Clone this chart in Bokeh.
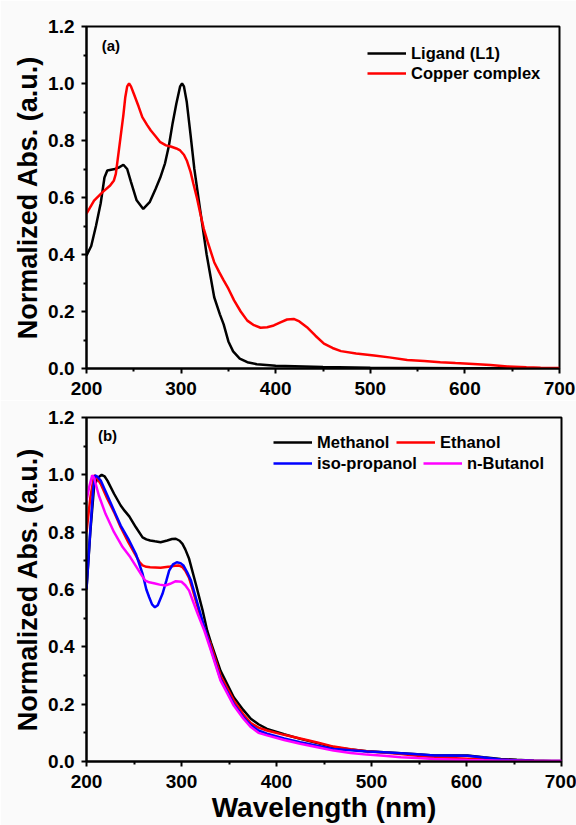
from bokeh.plotting import figure
from bokeh.models import Legend, LegendItem, FixedTicker, Label, Range1d, NumeralTickFormatter
from bokeh.layouts import column
from bokeh.embed import file_html
from bokeh.resources import INLINE

# ---------------- data: panel (a) ----------------
ligand_wl = [200, 205, 210, 215, 219, 222, 230, 234, 239, 243, 247, 253, 260, 267, 273, 278, 283,
             287, 291, 295, 299, 301, 303, 306, 310, 314, 320, 327, 335, 341, 345, 350, 355, 362,
             370, 380, 400, 450, 500, 600, 700]
ligand_abs = [0.396, 0.43, 0.50, 0.58, 0.67, 0.695, 0.70, 0.705, 0.715, 0.70, 0.655, 0.59, 0.56,
              0.585, 0.63, 0.67, 0.72, 0.78, 0.86, 0.93, 0.99, 1.0, 0.99, 0.935, 0.82, 0.70, 0.56,
              0.40, 0.25, 0.19, 0.155, 0.095, 0.06, 0.035, 0.022, 0.015, 0.01, 0.005, 0.003, 0.001, 0.0]

copper_wl = [200, 208, 217, 225, 229, 231, 234, 236, 239, 241, 243, 245, 247, 250, 255, 259, 264,
             268, 273, 278, 284, 289, 295, 299, 303, 306, 310, 313, 317, 320, 324, 328, 335, 340,
             345, 350, 356, 363, 370, 377, 384, 391, 398, 405, 412, 419, 425, 433, 442, 451, 460,
             469, 485, 504, 520, 539, 557, 574, 590, 609, 627, 645, 665, 680, 700]
copper_abs = [0.543, 0.589, 0.619, 0.642, 0.66, 0.683, 0.76, 0.812, 0.89, 0.952, 0.99, 1.0, 0.99,
              0.964, 0.92, 0.882, 0.855, 0.835, 0.815, 0.794, 0.783, 0.779, 0.772, 0.765, 0.75,
              0.73, 0.69, 0.648, 0.595, 0.548, 0.49, 0.445, 0.373, 0.34, 0.309, 0.28, 0.239, 0.2,
              0.168, 0.152, 0.143, 0.145, 0.151, 0.162, 0.172, 0.174, 0.165, 0.145, 0.115, 0.087,
              0.072, 0.061, 0.053, 0.046, 0.039, 0.030, 0.026, 0.022, 0.019, 0.016, 0.012, 0.007,
              0.004, 0.003, 0.002]

# ---------------- data: panel (b) ----------------
methanol_wl = [200, 204, 208, 212, 216, 219, 222, 229, 236, 240, 245, 252, 259, 263, 267, 272, 278,
               285, 290, 294, 298, 301, 304, 308, 315, 322, 327, 331, 341, 355, 365, 373, 381, 390,
               408, 425, 443, 460, 478, 495, 513, 531, 548, 566, 583, 601, 618, 636, 653, 671, 700]
methanol_abs = [0.6, 0.8, 0.96, 0.99, 1.0, 0.995, 0.98, 0.934, 0.893, 0.875, 0.855, 0.817, 0.782,
                0.775, 0.771, 0.768, 0.765, 0.771, 0.776, 0.777, 0.77, 0.759, 0.74, 0.707, 0.62,
                0.53, 0.457, 0.415, 0.317, 0.224, 0.18, 0.149, 0.13, 0.114, 0.095, 0.079, 0.064,
                0.050, 0.042, 0.036, 0.032, 0.029, 0.025, 0.021, 0.021, 0.021, 0.015, 0.009, 0.006,
                0.003, 0.0]

ethanol_wl = [200, 204, 208, 210, 215, 222, 229, 236, 244, 252, 256, 259, 263, 267, 278, 288, 293,
              297, 301, 304, 308, 311, 318, 325, 331, 341, 355, 365, 373, 381, 390, 408, 425, 443,
              460, 478, 495, 513, 531, 548, 566, 583, 601, 618, 636, 653, 671, 700]
ethanol_abs = [0.80, 0.92, 0.998, 0.995, 0.968, 0.916, 0.87, 0.817, 0.765, 0.718, 0.695, 0.684,
               0.679, 0.678, 0.676, 0.68, 0.683, 0.684, 0.678, 0.666, 0.64, 0.608, 0.527, 0.457,
               0.405, 0.300, 0.213, 0.165, 0.134, 0.118, 0.108, 0.093, 0.080, 0.066, 0.052, 0.043,
               0.036, 0.031, 0.026, 0.020, 0.015, 0.012, 0.010, 0.008, 0.006, 0.004, 0.003, 0.002]

isopropanol_wl = [200, 204, 207, 209, 211, 215, 222, 229, 236, 244, 252, 259, 263, 266, 269, 272,
                  275, 280, 284, 287, 291, 295, 299, 302, 306, 310, 318, 325, 331, 341, 355, 365,
                  373, 381, 390, 408, 425, 443, 460, 478, 495, 513, 531, 548, 566, 583, 601, 618,
                  636, 653, 671, 700]
isopropanol_abs = [0.602, 0.806, 0.95, 0.998, 0.995, 0.98, 0.928, 0.875, 0.823, 0.777, 0.724,
                   0.655, 0.60, 0.573, 0.548, 0.538, 0.545, 0.585, 0.63, 0.666, 0.688, 0.695,
                   0.692, 0.684, 0.66, 0.631, 0.538, 0.457, 0.393, 0.288, 0.201, 0.155, 0.126,
                   0.108, 0.097, 0.080, 0.067, 0.055, 0.044, 0.039, 0.035, 0.032, 0.029, 0.025,
                   0.021, 0.021, 0.020, 0.014, 0.007, 0.004, 0.003, 0.002]

butanol_wl = [200, 203, 206, 208, 213, 220, 229, 238, 246, 255, 259, 262, 266, 271, 277, 283, 288,
              294, 300, 304, 308, 312, 317, 324, 331, 341, 355, 365, 373, 381, 390, 408, 425, 443,
              460, 478, 495, 513, 531, 548, 566, 583, 601, 618, 636, 653, 671, 700]
butanol_abs = [0.91, 0.96, 0.998, 0.99, 0.928, 0.864, 0.80, 0.748, 0.713, 0.666, 0.645, 0.631,
               0.625, 0.622, 0.617, 0.614, 0.62, 0.629, 0.627, 0.615, 0.596, 0.56, 0.515, 0.457,
               0.387, 0.283, 0.195, 0.15, 0.12, 0.10, 0.091, 0.075, 0.062, 0.050, 0.038, 0.030,
               0.024, 0.020, 0.015, 0.012, 0.009, 0.007, 0.005, 0.004, 0.003, 0.003, 0.002, 0.002]

x_major = [200, 300, 400, 500, 600, 700]
x_minor = [250, 350, 450, 550, 650]
y_major = [0.0, 0.2, 0.4, 0.6, 0.8, 1.0, 1.2]
y_minor = [0.1, 0.3, 0.5, 0.7, 0.9, 1.1]

FONT = "Liberation Sans"
BG = "#fafafa"


def make_fig(frame_w, frame_h, b_top, b_bottom, b_right, xlabel):
    p = figure(frame_width=frame_w, frame_height=frame_h,
               min_border_left=86, min_border_right=b_right,
               min_border_top=b_top, min_border_bottom=b_bottom,
               x_range=Range1d(200, 700), y_range=Range1d(0, 1.2),
               output_backend="svg", toolbar_location=None, tools="")
    p.background_fill_color = BG
    p.border_fill_color = BG
    p.grid.visible = False
    p.outline_line_color = "black"
    p.outline_line_width = 2
    p.xaxis.ticker = FixedTicker(ticks=x_major, minor_ticks=x_minor)
    p.yaxis.ticker = FixedTicker(ticks=y_major, minor_ticks=y_minor)
    p.yaxis.formatter = NumeralTickFormatter(format="0.0")
    for ax in (p.xaxis, p.yaxis):
        ax.axis_line_width = 2
        ax.major_tick_line_width = 2
        ax.minor_tick_line_width = 2
        ax.major_tick_out = 5
        ax.major_tick_in = 0
        ax.minor_tick_out = 3
        ax.minor_tick_in = 0
        ax.major_label_text_font = FONT
        ax.major_label_text_font_style = "bold"
        ax.major_label_text_font_size = "19px"
        ax.major_label_text_color = "black"
        ax.axis_label_text_font = FONT
        ax.axis_label_text_font_style = "bold"
        ax.axis_label_text_font_size = "27px"
        ax.axis_label_text_color = "black"
    p.yaxis.axis_label = "Normalized Abs. (a.u.)"
    p.yaxis.major_label_standoff = 7
    p.yaxis.axis_label_standoff = 2
    p.xaxis.major_label_standoff = 8
    if xlabel:
        p.xaxis.axis_label = xlabel
        p.xaxis.axis_label_text_font_size = "28px"
        p.xaxis.axis_label_standoff = 1
    return p


def style_legend(leg):
    leg.background_fill_alpha = 0
    leg.border_line_alpha = 0
    leg.padding = 0
    leg.margin = 0
    leg.spacing = 0
    leg.glyph_width = 39
    leg.glyph_height = 20
    leg.label_height = 20
    leg.label_standoff = 5
    leg.label_text_font = FONT
    leg.label_text_font_style = "bold"
    leg.label_text_font_size = "16.5px"
    leg.label_text_color = "black"
    leg.label_text_baseline = "middle"


# ---------------- panel (a) ----------------
p1 = make_fig(473, 342, 26, 32, 17, None)
r_lig = p1.line(ligand_wl, ligand_abs, line_color="black", line_width=2.5)
r_cu = p1.line(copper_wl, copper_abs, line_color="#ff0000", line_width=2.5)
leg1 = Legend(items=[LegendItem(label="Ligand (L1)", renderers=[r_lig]),
                     LegendItem(label="Copper complex", renderers=[r_cu])],
              location=(281, 285), orientation="vertical")
style_legend(leg1)
p1.add_layout(leg1)
p1.add_layout(Label(x=216, y=1.135, text="(a)", text_font=FONT, text_font_style="bold",
                    text_font_size="15px", text_baseline="middle", text_color="black"))

# ---------------- panel (b) ----------------
p2 = make_fig(475, 344, 17, 64, 15, "Wavelength (nm)")
r_me = p2.line(methanol_wl, methanol_abs, line_color="black", line_width=2.5)
r_et = p2.line(ethanol_wl, ethanol_abs, line_color="#ff0000", line_width=2.5)
r_ip = p2.line(isopropanol_wl, isopropanol_abs, line_color="#0000ff", line_width=2.5)
r_bu = p2.line(butanol_wl, butanol_abs, line_color="#ff00ff", line_width=2.5)
legend_specs = [("Methanol", r_me, (187, 309)), ("Ethanol", r_et, (310, 309)),
                ("iso-propanol", r_ip, (187, 288)), ("n-Butanol", r_bu, (337, 288))]
for lab, rend, loc in legend_specs:
    lg = Legend(items=[LegendItem(label=lab, renderers=[rend])], location=loc)
    style_legend(lg)
    p2.add_layout(lg)
p2.add_layout(Label(x=212, y=1.137, text="(b)", text_font=FONT, text_font_style="bold",
                    text_font_size="15px", text_baseline="middle", text_color="black"))

layout = column(p1, p2, spacing=0)
open("out.html", "w").write(file_html(layout, INLINE))
